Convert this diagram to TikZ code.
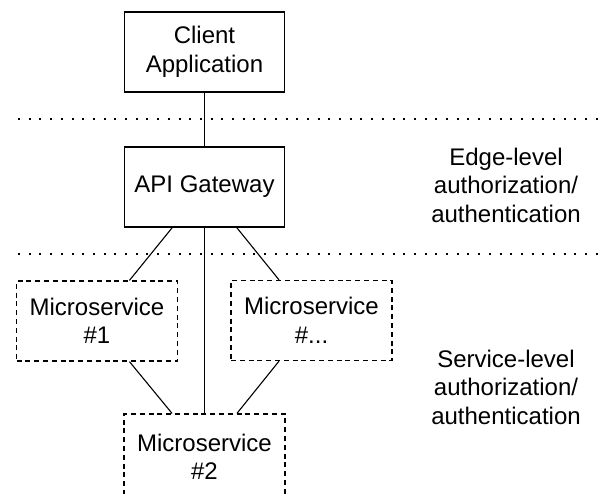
\documentclass[tikz,border=0pt]{standalone}
\usepackage{fontspec}
\setmainfont{Liberation Sans}
\usetikzlibrary{calc}
\begin{document}
\begin{tikzpicture}[x=1pt,y=-1pt,
  every node/.style={font=\fontsize{24}{28.5}\selectfont, align=center, inner sep=0pt},
  solidbox/.style={draw, line width=1.2pt, minimum width=160pt, minimum height=80pt},
  dashbox/.style={draw, line width=1.2pt, dash pattern=on 5pt off 3.8pt, minimum width=161pt, minimum height=80pt},
  link/.style={line width=1.1pt},
  layer/.style={line width=2pt, dash pattern=on 2pt off 8.7pt}
]
\useasboundingbox (0,0) rectangle (599,493);
\clip (0,0) rectangle (599,493);

% boxes
\node[solidbox] (client) at (204.5,52) {Client\\Application};
\node[solidbox] (api) at (204.5,187) {API Gateway};
\node[dashbox] (ms1) at (97,321) {Microservice\\\#1};
\node[dashbox] (msn) at (311.5,320.5) {Microservice\\\#...};
\node[dashbox, minimum height=86pt] (ms2) at (204.5,457) {Microservice\\\#2};

% layer boundaries
\coordinate (l1a) at (18,119);
\coordinate (l1b) at (599,119);
\coordinate (l2a) at (18,254);
\coordinate (l2b) at (599,254);
\draw[layer] (l1a) -- (l1b);
\draw[layer] (l2a) -- (l2b);

% layer labels
\node (edge) at (506,185) {Edge-level\\authorization/\\authentication};
\node (svc) at (506,387) {Service-level\\authorization/\\authentication};

% connectors
\draw[link] (client.south) -- (api.north);
\draw[link] ($(api.south west)!0.3!(api.south east)$) -- ($(ms1.north west)!0.7!(ms1.north east)$);
\draw[link] ($(api.south west)!0.7!(api.south east)$) -- ($(msn.north west)!0.3!(msn.north east)$);
\draw[link] (api.south) -- (ms2.north);
\draw[link] ($(ms1.south west)!0.7!(ms1.south east)$) -- ($(ms2.north west)!0.3!(ms2.north east)$);
\draw[link] ($(msn.south west)!0.3!(msn.south east)$) -- ($(ms2.north west)!0.7!(ms2.north east)$);
\end{tikzpicture}
\end{document}
